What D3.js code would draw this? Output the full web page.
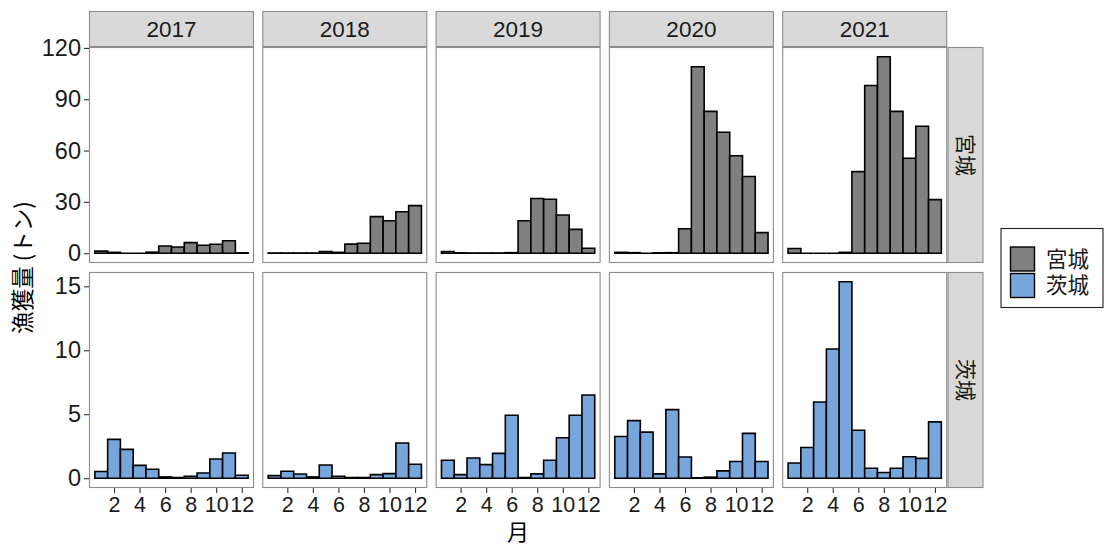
<!DOCTYPE html>
<html><head><meta charset="utf-8">
<script src="https://cdn.jsdelivr.net/npm/d3@7"></script>
<style>body{margin:0;background:#fff}svg{display:block}</style>
</head><body>
<svg id="c" width="1105" height="545"></svg>
<script>
const years = ["2017","2018","2019","2020","2021"];
const regions = ["宮城","茨城"];
const months = [1,2,3,4,5,6,7,8,9,10,11,12];
const monthTicks = [2,4,6,8,10,12];
const yTicksMiyagi = [0,30,60,90,120];
const yTicksIbaraki = [0,5,10,15];
const colors = ["#808080","#77A6DD"];

const miyagi2017 = [1.2,0.5,0,0,0.6,4.2,3.6,6.2,4.6,5.2,7.3,0.2];
const miyagi2018 = [0.1,0.1,0.1,0.1,1.0,0.5,5.3,5.8,21.4,19.0,24.2,27.8];
const miyagi2019 = [1.0,0.2,0.1,0.1,0.1,0.3,19.0,32.0,31.5,22.3,13.9,2.9];
const miyagi2020 = [0.5,0.3,0,0.2,0.3,14.3,109.0,82.9,70.7,57.0,44.8,12.0];
const miyagi2021 = [2.7,0,0,0,0.5,47.7,98.0,114.8,82.9,55.5,74.2,31.3];

const ibaraki2017 = [0.52,3.03,2.25,1.0,0.7,0.1,0.05,0.15,0.41,1.5,1.97,0.23];
const ibaraki2018 = [0.2,0.54,0.33,0.1,1.03,0.15,0.05,0.05,0.28,0.36,2.75,1.09];
const ibaraki2019 = [1.4,0.28,1.58,1.06,1.94,4.92,0.05,0.34,1.4,3.16,4.92,6.5];
const ibaraki2020 = [3.26,4.5,3.6,0.34,5.36,1.66,0.03,0.08,0.57,1.3,3.5,1.3];
const ibaraki2021 = [1.19,2.4,5.95,10.1,15.35,3.75,0.78,0.44,0.78,1.68,1.55,4.4];

const values = [
  [miyagi2017,miyagi2018,miyagi2019,miyagi2020,miyagi2021],
  [ibaraki2017,ibaraki2018,ibaraki2019,ibaraki2020,ibaraki2021]
];
const yTicks = [yTicksMiyagi, yTicksIbaraki];

const svg = d3.select("#c");
const numFont = "'Liberation Sans', Arial, sans-serif";
const cjkFont = "'Noto Sans CJK JP', sans-serif";

const left0 = 89, panelW = 165, stepX = 173.3;
const rowTop = [47, 272], panelH = 216;
const stripTop = 11, stripH = 36, stripRX = 947.5, stripRW = 36;

const x = d3.scaleLinear().domain([0.04, 12.96]).range([0, panelW]);

regions.forEach((reg, r) => {
  const mx = d3.max(values[r].flat());
  const ex = mx * 0.05;
  const y = d3.scaleLinear().domain([-ex, mx + ex]).range([panelH, 0]);
  years.forEach((yr, c) => {
    const g = svg.append("g").attr("transform", `translate(${left0 + c*stepX},${rowTop[r]})`);
    g.append("rect").attr("width", panelW).attr("height", panelH).attr("fill", "#fff");
    g.selectAll("path.bar").data(values[r][c]).join("path")
      .attr("class","bar")
      .attr("d", (d,i) => {
        const x0 = x(months[i]-0.5), x1 = x(months[i]+0.5), y0 = y(0), y1 = y(d);
        return `M${x0},${y0}V${y1}H${x1}V${y0}Z`;
      })
      .attr("fill", colors[r]).attr("stroke", "#000").attr("stroke-width", 1.6)
      .attr("stroke-linejoin","miter");
    g.append("rect").attr("x",0.5).attr("y",0.5).attr("width", panelW-1).attr("height", panelH-1)
      .attr("fill","none").attr("stroke","#8c8c8c").attr("stroke-width",1.1);
    if (c === 0) {
      const ax = g.append("g").call(d3.axisLeft(y).tickValues(yTicks[r]).tickSize(5).tickPadding(3));
      ax.select(".domain").remove();
      ax.selectAll("line").attr("stroke","#333").attr("stroke-width",1.1);
      ax.selectAll("text").attr("font-family", numFont).attr("font-size", 23.5).attr("fill","#1a1a1a");
    }
    if (r === 1) {
      const ax = g.append("g").attr("transform", `translate(0,${panelH})`)
        .call(d3.axisBottom(x).tickValues(monthTicks).tickSize(5).tickPadding(4));
      ax.select(".domain").remove();
      ax.selectAll("line").attr("stroke","#333").attr("stroke-width",1.1);
      ax.selectAll("text").attr("font-family", numFont).attr("font-size", 21.5).attr("fill","#1a1a1a");
    }
    if (r === 0) {
      const s = svg.append("g").attr("transform", `translate(${left0 + c*stepX},${stripTop})`);
      s.append("rect").attr("x",0.5).attr("y",0.5).attr("width", panelW-1).attr("height", stripH-1)
        .attr("fill","#d9d9d9").attr("stroke","#8c8c8c").attr("stroke-width",1.1);
      s.append("text").attr("x", panelW/2).attr("y", stripH/2).attr("dy","0.36em")
        .attr("text-anchor","middle").attr("font-family", numFont).attr("font-size", 22.5)
        .attr("fill","#1a1a1a").text(yr);
    }
  });
  const s = svg.append("g").attr("transform", `translate(${stripRX},${rowTop[r]})`);
  s.append("rect").attr("x",0.5).attr("y",0.5).attr("width", stripRW-1).attr("height", panelH-1)
    .attr("fill","#d9d9d9").attr("stroke","#8c8c8c").attr("stroke-width",1.1);
  s.append("text").attr("transform", `translate(${stripRW/2},${panelH/2}) rotate(90)`)
    .attr("dy","0.36em").attr("text-anchor","middle").attr("font-family", cjkFont)
    .attr("font-size", 21).attr("fill","#1a1a1a").text(reg);
});

// axis titles
svg.append("text").attr("transform", `translate(23,${(rowTop[0]+rowTop[1]+panelH)/2}) rotate(-90)`)
  .attr("text-anchor","middle").attr("dy","0.36em").attr("font-family", cjkFont)
  .attr("font-size", 22.5).attr("fill","#000").text("漁獲量 (トン)");
svg.append("text").attr("x", left0 + (4*stepX + panelW)/2).attr("y", 532).attr("dy","0.36em")
  .attr("text-anchor","middle").attr("font-family", cjkFont).attr("font-size", 22)
  .attr("fill","#000").text("月");

// legend
const lg = svg.append("g").attr("transform","translate(1001,228.5)");
lg.append("rect").attr("x",0).attr("y",0).attr("width",102).attr("height",79)
  .attr("fill","#fff").attr("stroke","#222").attr("stroke-width",1.1);
regions.forEach((reg,i) => {
  lg.append("rect").attr("x",9.5).attr("y",18.5 + i*26.5).attr("width",24).attr("height",24)
    .attr("fill",colors[i]).attr("stroke","#000").attr("stroke-width",1.4);
  lg.append("text").attr("x",45).attr("y",30.5 + i*26.5).attr("dy","0.36em")
    .attr("font-family", cjkFont).attr("font-size", 21.5).attr("fill","#1a1a1a").text(reg);
});
</script>
</body></html>
